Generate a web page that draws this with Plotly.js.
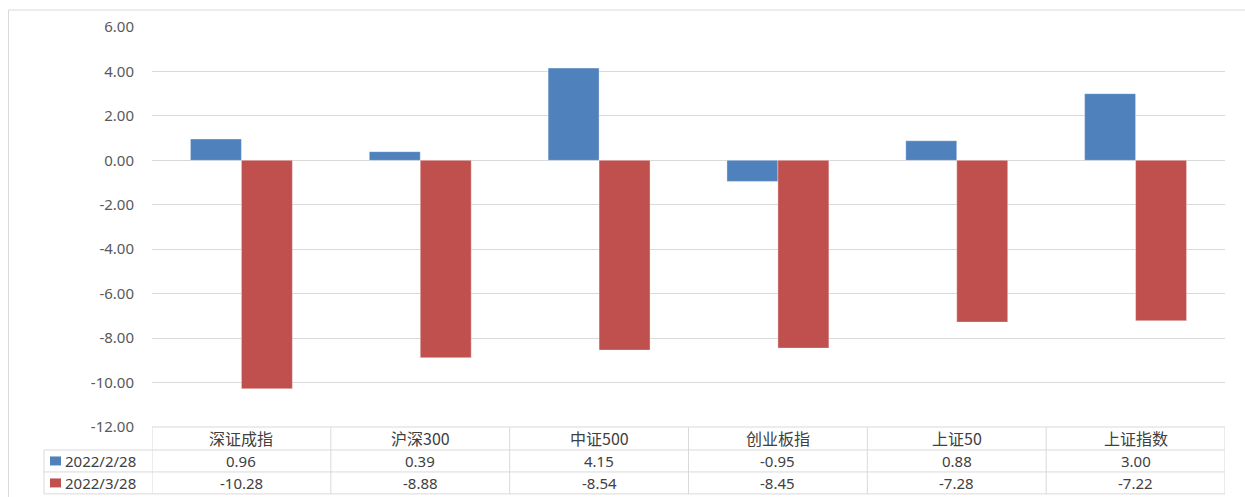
<!DOCTYPE html>
<html>
<head>
<meta charset="utf-8">
<script src="https://cdn.plot.ly/plotly-3.0.1.min.js"></script>
<style>html,body{margin:0;padding:0;background:#fff;}#chart{width:1245px;height:497px;}</style>
</head>
<body>
<div id="chart"></div>
<script>
const categories = ['深证成指', '沪深300', '中证500', '创业板指', '上证50', '上证指数'];
const seriesNames = ['2022/2/28', '2022/3/28'];
const values0228 = [0.96, 0.39, 4.15, -0.95, 0.88, 3.00];
const values0328 = [-10.28, -8.88, -8.54, -8.45, -7.28, -7.22];
const seriesColors = ['#4F81BD', '#C0504D'];
const yTicks = [6, 4, 2, 0, -2, -4, -6, -8, -10, -12];

const W = 1245, H = 497;
const L = 152, R = 1225, T = 26.5, B = 427;
const pw = R - L, ph = B - T;
const pxX = p => (p - L) / pw;
const pxY = p => (B - p) / ph;
const gridC = '#d9d9d9';
const font = '"Noto Sans CJK SC", "Noto Sans", sans-serif';

const allSeries = [values0228, values0328];
const traces = allSeries.map((vals, i) => ({
  type: 'bar', x: categories, y: vals, name: seriesNames[i],
  marker: {color: seriesColors[i], line: {color: 'rgba(255,255,255,0.6)', width: 0.6}},
  hoverinfo: 'x+y'
}));

const shapes = [];
const annotations = [];
// outer chart border (left and top)
shapes.push({type: 'line', xref: 'paper', yref: 'paper', x0: pxX(8.5), x1: pxX(W), y0: pxY(9.5), y1: pxY(9.5), line: {color: gridC, width: 1}});
shapes.push({type: 'line', xref: 'paper', yref: 'paper', x0: pxX(8.5), x1: pxX(8.5), y0: pxY(9.5), y1: pxY(H), line: {color: gridC, width: 1}});

// table rows
const rowTops = [427, 450, 472, 494];
const legendLeft = 44;
shapes.push({type: 'line', xref: 'paper', yref: 'paper', x0: 0, x1: 1, y0: pxY(rowTops[0]), y1: pxY(rowTops[0]), line: {color: gridC, width: 1}});
for (let r = 1; r < rowTops.length; r++) {
  shapes.push({type: 'line', xref: 'paper', yref: 'paper', x0: pxX(legendLeft), x1: 1, y0: pxY(rowTops[r]), y1: pxY(rowTops[r]), line: {color: gridC, width: 1}});
}
for (let i = 0; i <= categories.length; i++) {
  shapes.push({type: 'line', xref: 'x', yref: 'paper', x0: i - 0.5, x1: i - 0.5, y0: pxY(rowTops[0]), y1: pxY(rowTops[3]), line: {color: gridC, width: 1}});
}
shapes.push({type: 'line', xref: 'paper', yref: 'paper', x0: pxX(legendLeft), x1: pxX(legendLeft), y0: pxY(rowTops[1]), y1: pxY(rowTops[3]), line: {color: gridC, width: 1}});

categories.forEach((c, i) => {
  annotations.push({xref: 'x', yref: 'paper', x: i, y: pxY((rowTops[0] + rowTops[1]) / 2), text: c, showarrow: false,
    font: {family: font, size: 16, color: '#404040'}, xanchor: 'center', yanchor: 'middle'});
});
allSeries.forEach((vals, s) => {
  const yc = pxY((rowTops[s + 1] + rowTops[s + 2]) / 2);
  vals.forEach((v, i) => {
    annotations.push({xref: 'x', yref: 'paper', x: i, y: yc, text: v.toFixed(2), showarrow: false,
      font: {family: '"Noto Sans", sans-serif', size: 15, color: '#404040'}, xanchor: 'center', yanchor: 'middle'});
  });
  shapes.push({type: 'rect', xref: 'paper', yref: 'paper', x0: pxX(50), x1: pxX(61), y0: pxY(rowTops[s + 1] + 6.5), y1: pxY(rowTops[s + 1] + 15.5),
    fillcolor: seriesColors[s], line: {width: 0}});
  annotations.push({xref: 'paper', yref: 'paper', x: pxX(63), y: yc, text: seriesNames[s], showarrow: false,
    font: {family: '"Noto Sans", sans-serif', size: 15, color: '#404040'}, xanchor: 'left', yanchor: 'middle'});
});

const layout = {
  width: W, height: H,
  margin: {l: L, r: W - R, t: T, b: H - B, pad: 0},
  paper_bgcolor: '#fff', plot_bgcolor: '#fff',
  showlegend: false,
  barmode: 'group', bargap: 0.43, bargroupgap: 0,
  xaxis: {range: [-0.5, categories.length - 0.5], showticklabels: false, showgrid: false, zeroline: false, showline: false, ticks: '', fixedrange: true},
  yaxis: {range: [-12, 6], tickvals: yTicks, ticktext: yTicks.map(v => v.toFixed(2)),
    showgrid: true, gridcolor: gridC, gridwidth: 1, zeroline: true, zerolinecolor: gridC, zerolinewidth: 1,
    showline: false, ticks: '', ticklabelstandoff: 17,
    tickfont: {family: '"Noto Sans", sans-serif', size: 15, color: '#595959'}, fixedrange: true},
  shapes: shapes, annotations: annotations,
  font: {family: font}
};
Plotly.newPlot('chart', traces, layout, {displayModeBar: false, staticPlot: true});
</script>
</body>
</html>
